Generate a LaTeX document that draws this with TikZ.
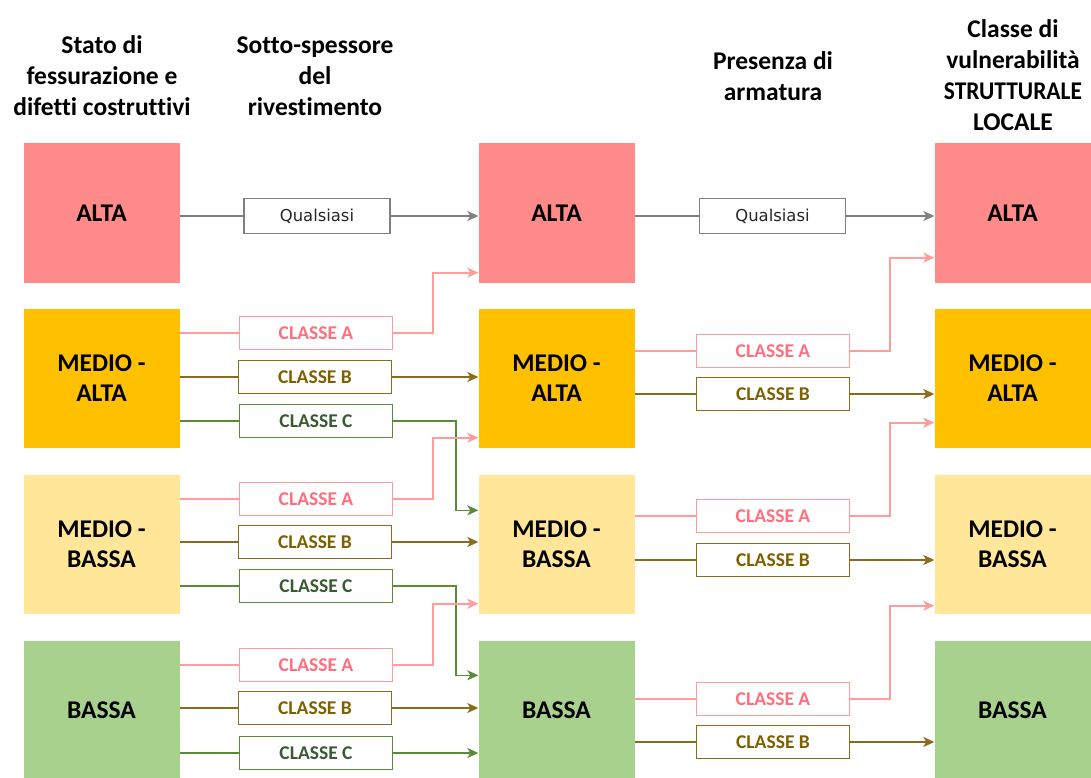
\documentclass[tikz,border=0pt]{standalone}
\usepackage{fontspec}
\setmainfont{Carlito}[Ligatures={TeX,NoCommon}]
\newfontfamily\qfont{DejaVu Sans}
\usetikzlibrary{arrows.meta,calc}
\definecolor{altaC}{HTML}{FF8A8A}
\definecolor{maC}{HTML}{FFC000}
\definecolor{mbC}{HTML}{FFE699}
\definecolor{bC}{HTML}{A9D18E}
\definecolor{pinkL}{HTML}{FF9C9C}
\definecolor{pinkT}{HTML}{FF6F7D}
\definecolor{brownL}{HTML}{8A6C1C}
\definecolor{brownT}{HTML}{7F6000}
\definecolor{greenL}{HTML}{5A8A3A}
\definecolor{greenT}{HTML}{3A5A32}
\definecolor{grayL}{HTML}{808080}
\begin{document}
\begin{tikzpicture}[x=1pt,y=-1pt,
  bigbox/.style={minimum width=156pt,minimum height=139pt,inner sep=0pt,align=center,
    font=\fontsize{25.5}{30}\selectfont\bfseries,text=black},
  hdr/.style={font=\fontsize{25.5}{31}\selectfont\bfseries,align=center,inner sep=0pt},
  smallbox/.style={draw,fill=white,line width=1.5pt,minimum width=153pt,minimum height=33pt,
    inner sep=0pt,font=\fontsize{19.5}{21}\selectfont\bfseries},
  qbox/.style={smallbox,draw=grayL,minimum width=146pt,minimum height=35pt,text=black!85,
    font=\qfont\fontsize{16.4}{18}\selectfont},
  abox/.style={smallbox,draw=pinkL,text=pinkT},
  bbox/.style={smallbox,draw=brownL,text=brownT},
  cbox/.style={smallbox,draw=greenL,text=greenT},
  conn/.style={line width=1.6pt},
  gline/.style={conn,draw=grayL},
  pline/.style={conn,draw=pinkL},
  bline/.style={conn,draw=brownL},
  cline/.style={conn,draw=greenL},
  arr/.style={-{Stealth[length=11pt,width=10pt,inset=3pt]}}
]
\useasboundingbox (0,0) rectangle (1091,778);

% headers
\node[hdr] (h1) at (102,76) {Stato di\\fessurazione e\\difetti costruttivi};
\node[hdr] (h2) at (315,76) {Sotto-spessore\\del\\rivestimento};
\node[hdr] (h3) at (773,76) {Presenza di\\armatura};
\node[hdr] (h4) at (1013,75) {Classe di\\vulnerabilità\\\scalebox{0.92}[1]{STRUTTURALE}\\LOCALE};

% big boxes
\node[bigbox,fill=altaC] (c1r1) at (101.5,213) {ALTA};
\node[bigbox,fill=maC]   (c1r2) at (101.5,378) {MEDIO -\\ALTA};
\node[bigbox,fill=mbC]   (c1r3) at (101.5,544) {MEDIO -\\BASSA};
\node[bigbox,fill=bC]    (c1r4) at (101.5,710) {BASSA};
\node[bigbox,fill=altaC] (c2r1) at (556.5,213) {ALTA};
\node[bigbox,fill=maC]   (c2r2) at (556.5,378) {MEDIO -\\ALTA};
\node[bigbox,fill=mbC]   (c2r3) at (556.5,544) {MEDIO -\\BASSA};
\node[bigbox,fill=bC]    (c2r4) at (556.5,710) {BASSA};
\node[bigbox,fill=altaC] (c3r1) at (1012.5,213) {ALTA};
\node[bigbox,fill=maC]   (c3r2) at (1012.5,378) {MEDIO -\\ALTA};
\node[bigbox,fill=mbC]   (c3r3) at (1012.5,544) {MEDIO -\\BASSA};
\node[bigbox,fill=bC]    (c3r4) at (1012.5,710) {BASSA};

% stage 1 small boxes
\node[qbox] (q1) at (317,216) {Qualsiasi};
\node[abox] (a12) at (316,333) {CLASSE A};
\node[bbox] (b12) at (315,377) {CLASSE B};
\node[cbox] (k12) at (316,421) {CLASSE C};
\node[abox] (a13) at (316,499) {CLASSE A};
\node[bbox] (b13) at (315,542) {CLASSE B};
\node[cbox] (k13) at (316,586) {CLASSE C};
\node[abox] (a14) at (316,665) {CLASSE A};
\node[bbox] (b14) at (315,708) {CLASSE B};
\node[cbox] (k14) at (316,753) {CLASSE C};

% stage 2 small boxes
\node[qbox] (q2) at (772.5,216) {Qualsiasi};
\node[abox] (a22) at (773,351) {CLASSE A};
\node[bbox] (b22) at (773,394) {CLASSE B};
\node[abox] (a23) at (773,516) {CLASSE A};
\node[bbox] (b23) at (773,560) {CLASSE B};
\node[abox] (a24) at (773,699) {CLASSE A};
\node[bbox] (b24) at (773,742) {CLASSE B};

% stage 1 connectors
\draw[gline] (c1r1.east |- q1) -- (q1.west);
\draw[gline,arr] (q1.east) -- (q1.east -| c2r1.west);

\draw[pline] (c1r2.east |- a12) -- (a12.west);
\draw[pline,arr] (a12.east) -- ++(40,0) |- ([yshift=10pt]c2r1.south west);
\draw[bline] (c1r2.east |- b12) -- (b12.west);
\draw[bline,arr] (b12.east) -- (b12.east -| c2r2.west);
\draw[cline] (c1r2.east |- k12) -- (k12.west);
\draw[cline,arr] (k12.east) -- ++(63,0) |- ([yshift=-36pt]c2r3.north west);

\draw[pline] (c1r3.east |- a13) -- (a13.west);
\draw[pline,arr] (a13.east) -- ++(40,0) |- ([yshift=10pt]c2r2.south west);
\draw[bline] (c1r3.east |- b13) -- (b13.west);
\draw[bline,arr] (b13.east) -- (b13.east -| c2r3.west);
\draw[cline] (c1r3.east |- k13) -- (k13.west);
\draw[cline,arr] (k13.east) -- ++(63,0) |- ([yshift=-35pt]c2r4.north west);

\draw[pline] (c1r4.east |- a14) -- (a14.west);
\draw[pline,arr] (a14.east) -- ++(40,0) |- ([yshift=10pt]c2r3.south west);
\draw[bline] (c1r4.east |- b14) -- (b14.west);
\draw[bline,arr] (b14.east) -- (b14.east -| c2r4.west);
\draw[cline] (c1r4.east |- k14) -- (k14.west);
\draw[cline,arr] (k14.east) -- (k14.east -| c2r4.west);

% stage 2 connectors
\draw[gline] (c2r1.east |- q2) -- (q2.west);
\draw[gline,arr] (q2.east) -- (q2.east -| c3r1.west);

\draw[pline] (c2r2.east |- a22) -- (a22.west);
\draw[pline,arr] (a22.east) -- ++(40,0) |- ([yshift=25pt]c3r1.south west);
\draw[bline] (c2r2.east |- b22) -- (b22.west);
\draw[bline,arr] (b22.east) -- (b22.east -| c3r2.west);

\draw[pline] (c2r3.east |- a23) -- (a23.west);
\draw[pline,arr] (a23.east) -- ++(40,0) |- ([yshift=25pt]c3r2.south west);
\draw[bline] (c2r3.east |- b23) -- (b23.west);
\draw[bline,arr] (b23.east) -- (b23.east -| c3r3.west);

\draw[pline] (c2r4.east |- a24) -- (a24.west);
\draw[pline,arr] (a24.east) -- ++(40,0) |- ([yshift=8pt]c3r3.south west);
\draw[bline] (c2r4.east |- b24) -- (b24.west);
\draw[bline,arr] (b24.east) -- (b24.east -| c3r4.west);
\end{tikzpicture}
\end{document}
